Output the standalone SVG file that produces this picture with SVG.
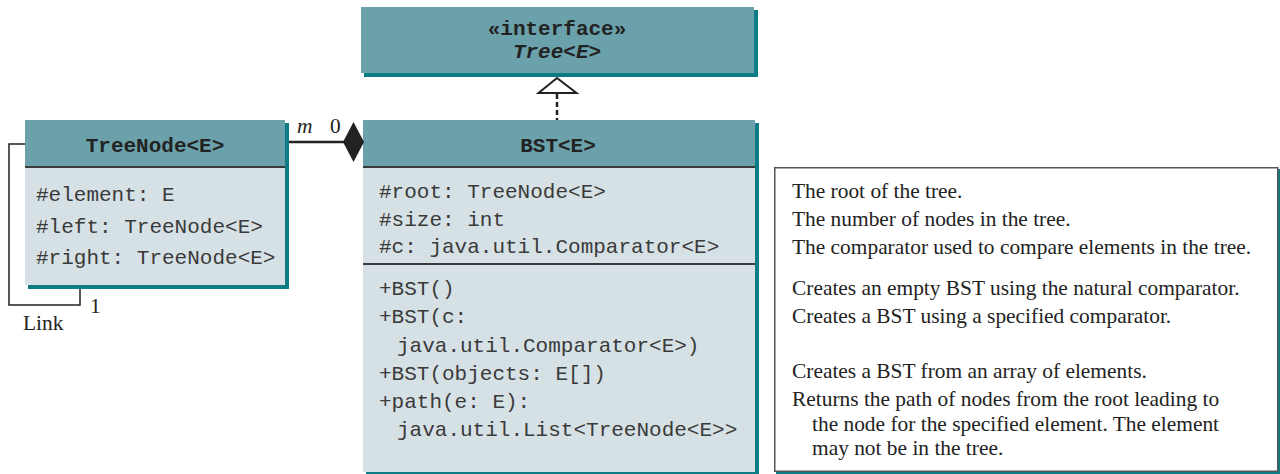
<svg xmlns="http://www.w3.org/2000/svg" width="1280" height="474" viewBox="0 0 1280 474">
<style>
.hdr{fill:#6aa1aa}
.body{fill:#d6e1e5}
.shadow{fill:#0d7c85}
.div{stroke:#3a3a3a;stroke-width:2}
.mono{font-family:"Liberation Mono","Courier New",monospace;font-size:21px;fill:#3a3a3a}
.monob{font-family:"Liberation Mono","Courier New",monospace;font-size:21px;font-weight:bold;fill:#222}
.serif{font-family:"Liberation Serif","Times New Roman",serif;font-size:21.4px;fill:#222}
.conn{stroke:#222;fill:none}
</style>
<rect width="1280" height="474" fill="#ffffff"/>

<g id="Tree">
  <rect class="shadow" x="364" y="10" width="394" height="67"/>
  <rect class="hdr" x="361" y="7" width="393" height="66"/>
  <text class="monob" x="557" y="35" text-anchor="middle">«interface»</text>
  <text class="monob" x="557" y="58" text-anchor="middle" font-style="italic">Tree&lt;E&gt;</text>
</g>

<g id="TreeNode">
  <rect class="shadow" x="28" y="123" width="261" height="166"/>
  <rect class="body" x="25" y="120" width="260" height="165"/>
  <rect class="hdr" x="25" y="120" width="260" height="47"/>
  <line class="div" x1="25" y1="167" x2="285" y2="167"/>
  <text class="monob" x="155" y="152" text-anchor="middle">TreeNode&lt;E&gt;</text>
  <text class="mono" x="36" y="201">#element: E</text>
  <text class="mono" x="36" y="233">#left: TreeNode&lt;E&gt;</text>
  <text class="mono" x="36" y="264">#right: TreeNode&lt;E&gt;</text>
</g>

<g id="BST">
  <rect class="shadow" x="366" y="123" width="393" height="351"/>
  <rect class="body" x="363" y="120" width="392" height="352"/>
  <rect class="hdr" x="363" y="120" width="392" height="47"/>
  <line class="div" x1="363" y1="167" x2="755" y2="167"/>
  <line class="div" x1="363" y1="264" x2="755" y2="264"/>
  <text class="monob" x="558" y="152" text-anchor="middle">BST&lt;E&gt;</text>
  <text class="mono" x="379" y="198">#root: TreeNode&lt;E&gt;</text>
  <text class="mono" x="379" y="226">#size: int</text>
  <text class="mono" x="379" y="253">#c: java.util.Comparator&lt;E&gt;</text>
  <text class="mono" x="379" y="295">+BST()</text>
  <text class="mono" x="379" y="323">+BST(c:</text>
  <text class="mono" x="397" y="352">java.util.Comparator&lt;E&gt;)</text>
  <text class="mono" x="379" y="380">+BST(objects: E[])</text>
  <text class="mono" x="379" y="408">+path(e: E):</text>
  <text class="mono" x="397" y="436">java.util.List&lt;TreeNode&lt;E&gt;&gt;</text>
</g>

<g id="Descriptions">
  <rect class="shadow" x="776" y="169" width="504" height="305"/>
  <rect x="774.75" y="167.75" width="503" height="303.5" fill="#ffffff" stroke="#555" stroke-width="1.5"/>
  <text class="serif" x="792" y="198">The root of the tree.</text>
  <text class="serif" x="792" y="226">The number of nodes in the tree.</text>
  <text class="serif" x="792" y="254">The comparator used to compare elements in the tree.</text>
  <text class="serif" x="792" y="295">Creates an empty BST using the natural comparator.</text>
  <text class="serif" x="792" y="323">Creates a BST using a specified comparator.</text>
  <text class="serif" x="792" y="378">Creates a BST from an array of elements.</text>
  <text class="serif" x="792" y="406">Returns the path of nodes from the root leading to</text>
  <text class="serif" x="812" y="431">the node for the specified element. The element</text>
  <text class="serif" x="812" y="455">may not be in the tree.</text>
</g>

<g id="connectors">
  <polyline class="conn" stroke-width="1.5" points="25,144 9,144 9,305 80,305 80,289"/>
  <text class="serif" x="90" y="313">1</text>
  <text class="serif" x="23" y="330">Link</text>
  <line class="conn" stroke-width="2.5" x1="289" y1="142" x2="344" y2="142"/>
  <polygon points="343,142 353.5,122 364,142 353.5,162" fill="#222"/>
  <text class="serif" x="297" y="133" font-style="italic">m</text>
  <text class="serif" x="330" y="133">0</text>
  <line class="conn" stroke-width="2.5" stroke-dasharray="5,3" x1="557" y1="94" x2="557" y2="120"/>
  <polygon points="557,78 538.5,93 576.5,93" fill="#ffffff" stroke="#222" stroke-width="2"/>
</g>
</svg>
